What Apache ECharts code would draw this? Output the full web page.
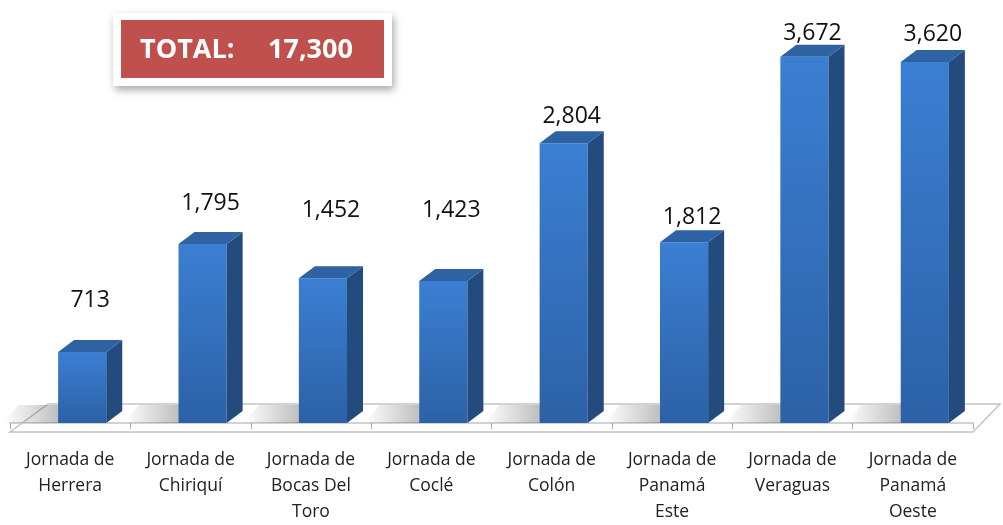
<!DOCTYPE html>
<html>
<head>
<meta charset="utf-8">
<script src="https://cdn.jsdelivr.net/npm/echarts@6/dist/echarts.min.js"></script>
<style>
  html, body { margin: 0; padding: 0; background: #fff; }
  #chart { width: 1003px; height: 525px; }
</style>
</head>
<body>
<div id="chart"></div>
<script>
// datos del gráfico
var categories = [
  'Jornada de\nHerrera',
  'Jornada de\nChiriquí',
  'Jornada de\nBocas Del\nToro',
  'Jornada de\nCoclé',
  'Jornada de\nColón',
  'Jornada de\nPanamá\nEste',
  'Jornada de\nVeraguas',
  'Jornada de\nPanamá\nOeste'
]
var values = [713, 1795, 1452, 1423, 2804, 1812, 3672, 3620]
var totalLabel = 'TOTAL:'
var totalValue = '17,300'

// separación de cada etiqueta sobre su barra (px, estilo)
var labelLift = [28, 17, 44, 47, 3, 1, 0, 4]

var myChart = echarts.init(document.getElementById('chart'))

function fmt(v) {
  return v.toLocaleString('en-US')
}

// barra 3D: cara frontal, lateral y superior
function renderBar(params, api) {
  var idx = api.value(0)
  var val = api.value(1)
  var top = api.coord([idx, val])
  var base = api.coord([idx, 0])
  var band = api.size([1, 0])[0]
  var w = band * 0.4
  var dx = 16, dy = 12
  var left = top[0] + 12 - w / 2
  var right = left + w
  var children = [
    // sombra en el piso
    {
      type: 'polygon',
      shape: { points: [[left - 55, base[1]], [left, base[1]], [left + 6, base[1] - 18], [left - 40, base[1] - 18]] },
      style: {
        fill: new echarts.graphic.LinearGradient(0, 0, 1, 0, [
          { offset: 0, color: 'rgba(0,0,0,0)' },
          { offset: 1, color: 'rgba(0,0,0,0.28)' }
        ])
      }
    },
    {
      type: 'rect',
      shape: { x: left, y: top[1], width: w, height: base[1] - top[1] },
      style: {
        fill: new echarts.graphic.LinearGradient(0, 0, 0, 1, [
          { offset: 0, color: '#3b7fd3' },
          { offset: 1, color: '#2c61a6' }
        ])
      }
    },
    {
      type: 'polygon',
      shape: { points: [[right, top[1]], [right + dx, top[1] - dy], [right + dx, base[1] - dy], [right, base[1]]] },
      style: { fill: '#244b7e' }
    },
    {
      type: 'polygon',
      shape: { points: [[left, top[1]], [left + dx, top[1] - dy], [right + dx, top[1] - dy], [right, top[1]]] },
      style: { fill: '#2f62a3' }
    },
    {
      type: 'text',
      style: {
        text: fmt(val),
        x: left + (w + dx) / 2,
        y: top[1] - dy - labelLift[idx],
        align: 'center',
        verticalAlign: 'bottom',
        fill: '#111',
        font: '23px "Open Sans", sans-serif'
      }
    }
  ]
  return { type: 'group', children: children }
}

var option = {
  animation: false,
  grid: { left: 10, right: 30, top: 24, bottom: 99 },
  graphic: [
    // piso
    {
      type: 'polygon',
      z: 0,
      shape: { points: [[10, 432], [48, 404], [1000, 404], [973, 432]] },
      style: { fill: '#fff', stroke: '#c4c4c4', lineWidth: 1.5 }
    },
    // recuadro total
    {
      type: 'group',
      left: 113,
      top: 13,
      z: 100,
      children: [
        {
          type: 'rect',
          shape: { x: 0, y: 0, width: 279, height: 73 },
          style: { fill: '#fff', shadowColor: 'rgba(0,0,0,0.35)', shadowBlur: 8, shadowOffsetX: 2, shadowOffsetY: 4 }
        },
        {
          type: 'rect',
          shape: { x: 8, y: 7, width: 263, height: 58 },
          style: { fill: '#c0504d' }
        },
        {
          type: 'text',
          style: { text: totalLabel, x: 27, y: 37, verticalAlign: 'middle', fill: '#fff', font: 'bold 27px "Open Sans", sans-serif' }
        },
        {
          type: 'text',
          style: { text: totalValue, x: 155, y: 37, verticalAlign: 'middle', fill: '#fff', font: 'bold 27px "Open Sans", sans-serif' }
        }
      ]
    }
  ],
  xAxis: {
    type: 'category',
    data: categories,
    offset: 6,
    axisLine: { show: true, lineStyle: { color: '#c4c4c4', width: 1.5 } },
    axisTick: { show: true, length: 6, lineStyle: { color: '#a6a6a6' } },
    axisLabel: {
      margin: 18,
      color: '#222',
      fontSize: 17.5,
      lineHeight: 26,
      fontFamily: 'Open Sans',
      interval: 0
    }
  },
  yAxis: {
    type: 'value',
    min: 0,
    max: 4000,
    show: false,
    splitLine: { show: false }
  },
  series: [
    {
      type: 'custom',
      renderItem: renderBar,
      z: 5,
      data: values.map(function (v, i) { return [i, v] })
    }
  ]
}

myChart.setOption(option)
</script>
</body>
</html>
